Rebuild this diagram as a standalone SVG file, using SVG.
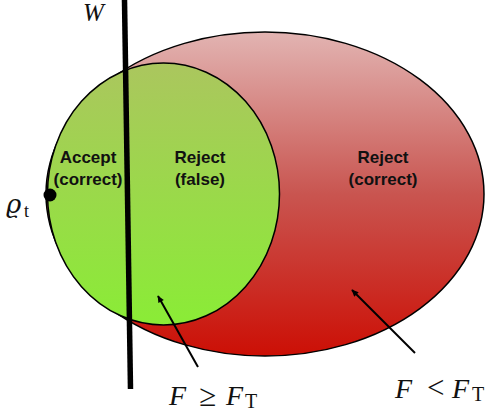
<svg xmlns="http://www.w3.org/2000/svg" width="486" height="416" viewBox="0 0 486 416">
<defs>
<linearGradient id="gRed" x1="0" y1="0" x2="0" y2="1">
<stop offset="0" stop-color="#e2b4b2"/>
<stop offset="0.5" stop-color="#c95550"/>
<stop offset="1" stop-color="#cc0f05"/>
</linearGradient>
<linearGradient id="gGreen" x1="0" y1="0" x2="0" y2="1">
<stop offset="0" stop-color="#abc65e"/>
<stop offset="1" stop-color="#8aec36"/>
</linearGradient>
<marker id="arr" viewBox="0 0 10 10" refX="9" refY="5" markerWidth="9" markerHeight="7" orient="auto-start-reverse" markerUnits="userSpaceOnUse">
<path d="M0,0.5 L10,5 L0,9.5 z" fill="#000"/>
</marker>
<style>
.lbl{font-family:"Liberation Sans",Arial,sans-serif;font-weight:bold;font-size:17px;fill:#111;text-anchor:middle}
.math{font-family:"DejaVu Serif","Liberation Serif",serif;fill:#111}
.tm{font-family:"Liberation Serif","Times New Roman",serif;fill:#111}
.it{font-style:italic}
.conn{stroke:#000;stroke-width:2;fill:none}
</style>
</defs>
<g id="reject-correct">
<ellipse cx="265" cy="194" rx="219" ry="162" fill="url(#gRed)" stroke="#000" stroke-width="1.5"/>
<text class="lbl" x="383" y="163">Reject</text>
<text class="lbl" x="383" y="185">(correct)</text>
</g>
<g id="accept-region">
<ellipse cx="163.5" cy="194" rx="116" ry="131" fill="url(#gGreen)" stroke="#000" stroke-width="1.5"/>
<text class="lbl" x="88" y="163">Accept</text>
<text class="lbl" x="88" y="185">(correct)</text>
<text class="lbl" x="200" y="163">Reject</text>
<text class="lbl" x="200" y="185">(false)</text>
</g>
<g id="W-line">
<line x1="124.5" y1="0" x2="130.5" y2="389" stroke="#000" stroke-width="5.5"/>
<text class="tm it" x="83" y="21" font-size="25">W</text>
</g>
<g id="rho-t">
<circle cx="50" cy="195" r="6.5" fill="#000"/>
<text class="math it" x="6" y="213" font-size="26">ϱ</text>
<text class="tm" x="24" y="217" font-size="18">t</text>
</g>
<g id="connectors">
<line class="conn" x1="198" y1="367" x2="158" y2="296" marker-end="url(#arr)"/>
<line class="conn" x1="415" y1="353" x2="352" y2="290" marker-end="url(#arr)"/>
</g>
<g id="label-geq">
<text class="tm it" x="169" y="405" font-size="28">F</text>
<text class="tm" x="199" y="406" font-size="31">≥</text>
<text class="tm it" x="226" y="405" font-size="28">F</text>
<text class="tm" x="245" y="408" font-size="20">T</text>
</g>
<g id="label-lt">
<text class="tm it" x="395" y="398" font-size="28">F</text>
<text class="tm" x="427" y="398" font-size="31">&lt;</text>
<text class="tm it" x="452" y="398" font-size="28">F</text>
<text class="tm" x="472" y="401" font-size="20">T</text>
</g>
</svg>
